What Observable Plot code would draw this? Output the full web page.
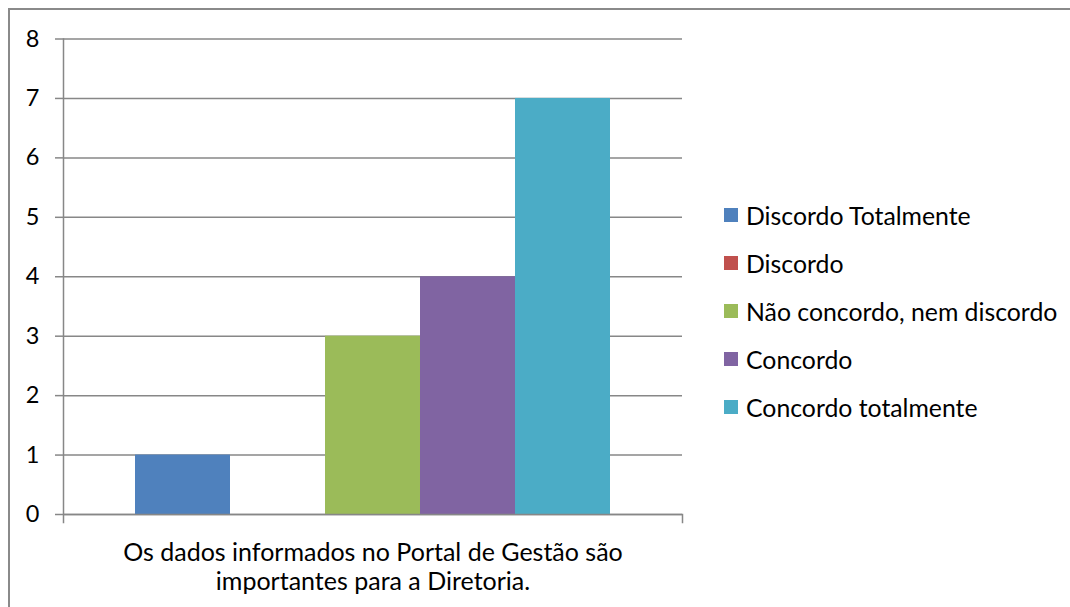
<!DOCTYPE html>
<html><head><meta charset="utf-8">
<script src="https://cdn.jsdelivr.net/npm/d3@7"></script>
<script src="https://cdn.jsdelivr.net/npm/@observablehq/plot@0.6"></script>
<style>
html,body{margin:0;padding:0;overflow:hidden;background:#fff;}
#wrap{position:relative;width:1070px;height:607px;overflow:hidden;font-family:Lato,sans-serif;}
#wrap svg{position:absolute;left:0;top:0;}
#border{position:absolute;left:8px;top:8px;width:1100px;height:700px;border-left:2px solid #8a8a8a;border-top:2px solid #8a8a8a;}
#legend{position:absolute;left:724px;top:191px;}
.item{height:48px;display:flex;align-items:center;font-size:24.8px;color:#000;white-space:nowrap;}
.sw{width:14px;height:14px;margin-right:8px;flex:none;}
</style></head><body>
<div id="wrap"><div id="border"></div><div id="legend"></div></div>
<script>
const categoryLines = ["Os dados informados no Portal de Gestão são", "importantes para a Diretoria."];
const series = ["Discordo Totalmente", "Discordo", "Não concordo, nem discordo", "Concordo", "Concordo totalmente"];
const values = [1, 0, 3, 4, 7];
const colors = ["#4F81BD", "#C0504D", "#9BBB59", "#8064A2", "#4BACC6"];
const yTicks = [0, 1, 2, 3, 4, 5, 6, 7, 8];

const data = series.map((s, i) => ({series: s, value: values[i]}));
const grid = "#878787";

const chart = Plot.plot({
  width: 1070, height: 607,
  marginLeft: 63, marginRight: 388, marginTop: 38.5, marginBottom: 93,
  style: {fontFamily: "Lato, sans-serif", fontSize: "24px", color: "#000", background: "transparent", overflow: "visible"},
  x: {type: "band", domain: series, paddingInner: 0, paddingOuter: 0.75, axis: null},
  y: {domain: [0, 8], axis: null},
  color: {domain: series, range: colors},
  marks: [
    Plot.ruleY(yTicks, {stroke: grid, strokeWidth: 1.5}),
    Plot.barY(data, {x: "series", y: "value", fill: "series", inset: 0}),
    Plot.ruleY([0], {stroke: grid, strokeWidth: 1.5}),
    Plot.frame({anchor: "left", stroke: grid, strokeWidth: 1.5, insetBottom: -8}),
    Plot.frame({anchor: "right", stroke: grid, strokeWidth: 1.5, insetTop: 475.5, insetBottom: -8}),
    Plot.axisY(yTicks, {label: null, tickSize: 8, tickPadding: 16, stroke: grid, strokeWidth: 1.5, fill: "#000", fontSize: 23.5, tickFormat: d => String(d)}),
    Plot.text([categoryLines.join("\n")], {frameAnchor: "bottom", lineAnchor: "top", dy: 26, lineHeight: 1.16, fontSize: 25, fill: "#000"})
  ]
});
document.getElementById("wrap").appendChild(chart);

const legend = document.getElementById("legend");
series.forEach((s, i) => {
  const row = document.createElement("div");
  row.className = "item";
  const sw = document.createElement("span");
  sw.className = "sw";
  sw.style.background = colors[i];
  const t = document.createElement("span");
  t.textContent = s;
  row.appendChild(sw); row.appendChild(t);
  legend.appendChild(row);
});
</script>
</body></html>
